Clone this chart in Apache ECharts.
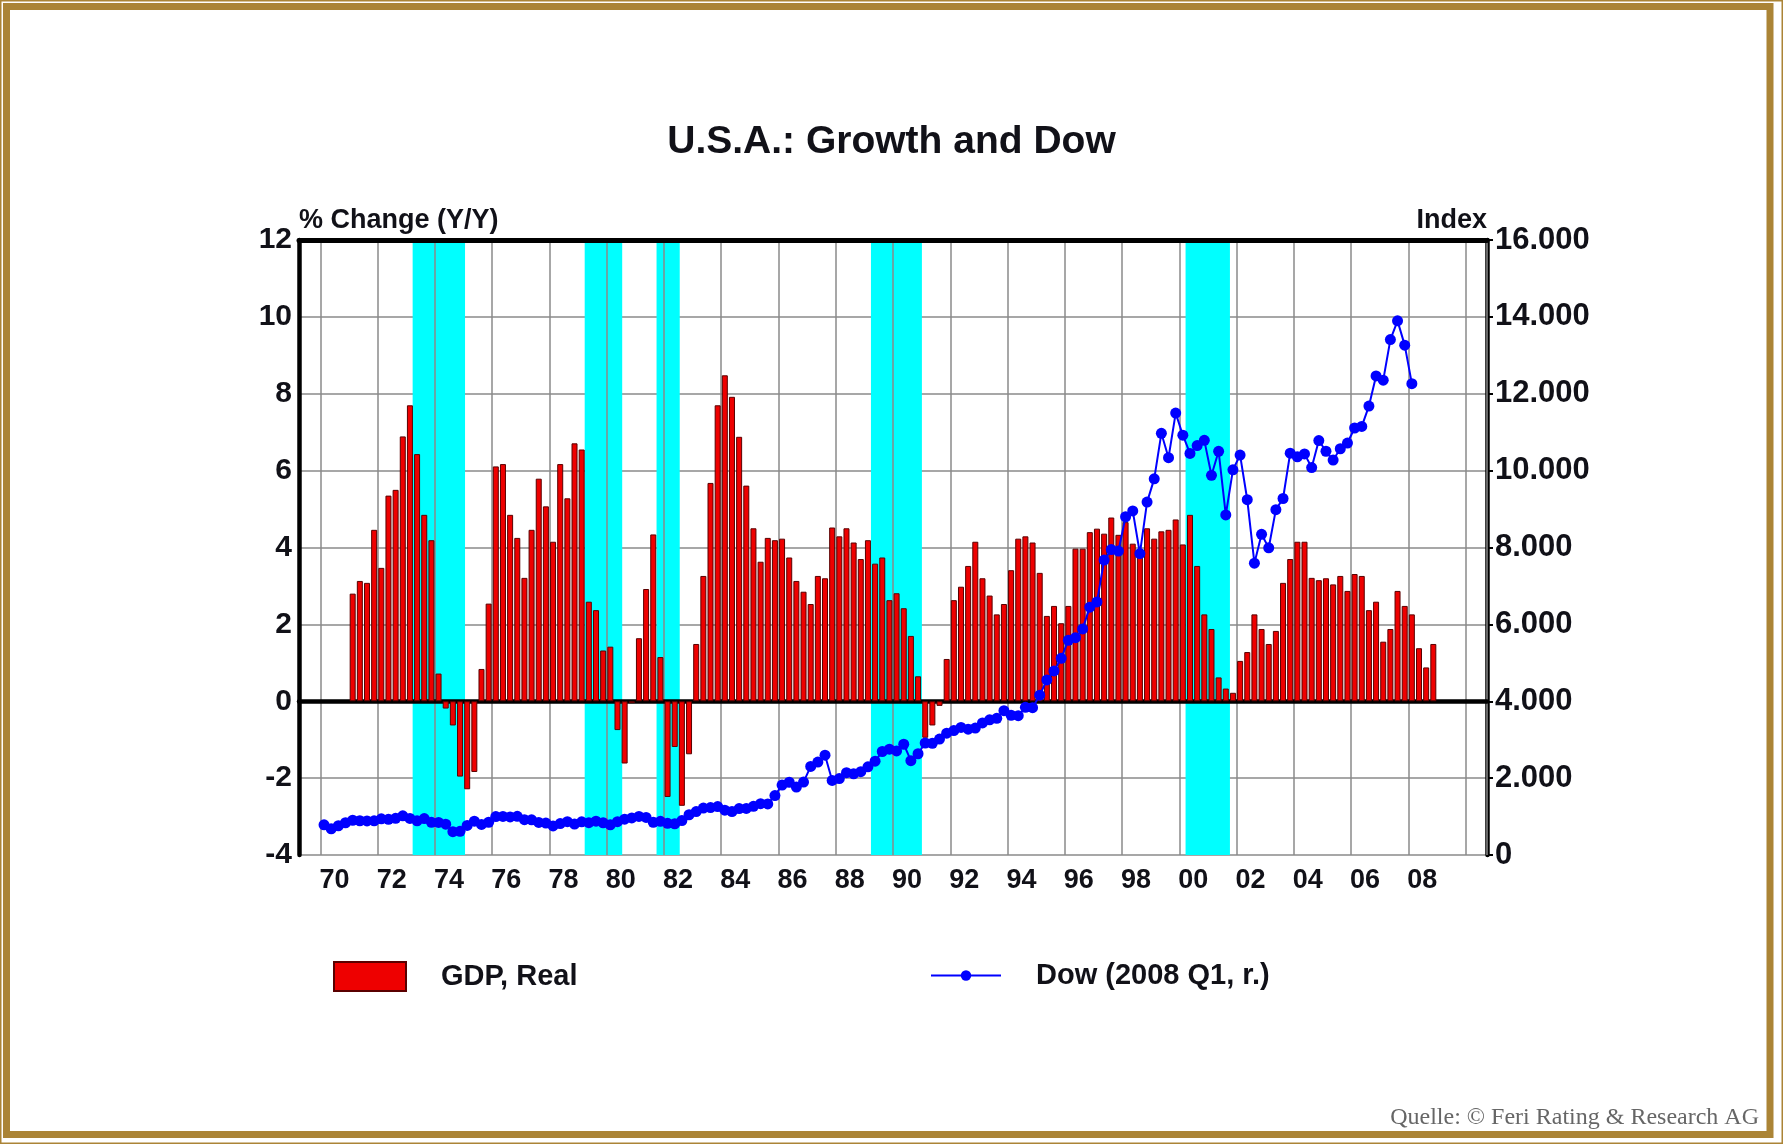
<!DOCTYPE html>
<html>
<head>
<meta charset="utf-8">
<title>U.S.A.: Growth and Dow</title>
<script src="https://cdn.jsdelivr.net/npm/echarts@6/dist/echarts.min.js"></script>
<style>
  html, body { margin: 0; padding: 0; background: #fff; }
  #chart { width: 1783px; height: 1144px; }
</style>
</head>
<body>
<div id="chart"></div>
<script>
// x axis runs quarterly from 1969 Q2 to 2010 Q3
var firstYear = 1969, firstQuarter = 2, quarterCount = 166;
var quarters = [];
for (var i = 0; i < quarterCount; i++) {
    var n = firstQuarter - 1 + i;
    quarters.push((firstYear + Math.floor(n / 4)) + ' Q' + (n % 4 + 1));
}
var lastLabel = '2008 Q1';

// GDP, real, % change y/y, 1971 Q1 .. 2008 Q4
var gdpStart = '1971 Q1';
var gdpReal = [
    2.8, 3.13, 3.08, 4.46,
    3.47, 5.35, 5.5, 6.89,
    7.7, 6.43, 4.85, 4.19,
    0.72, -0.19, -0.63, -1.96,
    -2.29, -1.84, 0.84, 2.54,
    6.11, 6.17, 4.85, 4.25,
    3.21, 4.46, 5.79, 5.07,
    4.15, 6.17, 5.28, 6.71,
    6.55, 2.59, 2.37, 1.32,
    1.42, -0.75, -1.62, -0.05,
    1.64, 2.92, 4.34, 1.15,
    -2.49, -1.19, -2.72, -1.38,
    1.49, 3.26, 5.68, 7.7,
    8.48, 7.92, 6.88, 5.61,
    4.5, 3.63, 4.25, 4.19,
    4.23, 3.74, 3.13, 2.85,
    2.53, 3.26, 3.2, 4.52,
    4.29, 4.5, 4.13, 3.7,
    4.19, 3.58, 3.74, 2.63,
    2.81, 2.42, 1.7, 0.65,
    -0.95, -0.63, -0.12, 1.1,
    2.63, 2.98, 3.52, 4.15,
    3.2, 2.75, 2.26, 2.53,
    3.41, 4.23, 4.29, 4.13,
    3.34, 2.22, 2.48, 2.03,
    2.48, 3.97, 3.97, 4.4,
    4.49, 4.36, 4.78, 4.33,
    4.66, 4.1, 3.8, 4.5,
    4.23, 4.42, 4.46, 4.73,
    4.08, 4.85, 3.52, 2.26,
    1.88, 0.62, 0.33, 0.22,
    1.05, 1.28, 2.26, 1.88,
    1.49, 1.83, 3.08, 3.7,
    4.15, 4.15, 3.21, 3.15,
    3.2, 3.04, 3.26, 2.87,
    3.31, 3.26, 2.37, 2.59,
    1.55, 1.88, 2.87, 2.48,
    2.26, 1.38, 0.88, 1.49
];

// Dow Jones, end of quarter, 1970 Q1 .. 2008 Q1
var dowStart = '1970 Q1';
var dow = [
    785, 683, 761, 839,
    904, 891, 887, 890,
    940, 929, 953, 1020,
    951, 891, 947, 851,
    847, 802, 608, 616,
    768, 879, 794, 852,
    999, 1003, 990, 1005,
    919, 916, 847, 831,
    757, 819, 866, 805,
    862, 842, 879, 839,
    786, 868, 932, 964,
    1004, 977, 850, 875,
    823, 812, 896, 1047,
    1130, 1222, 1233, 1259,
    1165, 1132, 1207, 1212,
    1267, 1336, 1329, 1547,
    1819, 1893, 1768, 1896,
    2305, 2419, 2596, 1939,
    1989, 2142, 2113, 2169,
    2294, 2440, 2693, 2753,
    2707, 2881, 2453, 2634,
    2914, 2907, 3017, 3169,
    3236, 3319, 3272, 3301,
    3436, 3516, 3555, 3754,
    3636, 3625, 3843, 3834,
    4158, 4556, 4789, 5117,
    5587, 5655, 5882, 6448,
    6584, 7673, 7945, 7908,
    8800, 8952, 7843, 9181,
    9786, 10971, 10337, 11497,
    10922, 10448, 10651, 10787,
    9879, 10502, 8848, 10022,
    10404, 9243, 7592, 8342,
    7992, 8985, 9275, 10454,
    10358, 10435, 10080, 10783,
    10504, 10275, 10569, 10718,
    11109, 11150, 11679, 12463,
    12354, 13409, 13896, 13265,
    12263
];

// recession periods (cyan), decimal years
var recessions = [
    [1973.22, 1975.05],
    [1979.23, 1980.54],
    [1981.74, 1982.55],
    [1989.23, 1991.01],
    [2000.22, 2001.77]
];

var leftTicks = { min: -4, max: 12, step: 2 };
var rightTicks = { min: 0, max: 16000, step: 2000 };

function alignTo(start, values) {
    var out = quarters.map(function () { return null; });
    var offset = quarters.indexOf(start);
    values.forEach(function (v, i) { out[offset + i] = v; });
    return out;
}

function everyNth(n, upTo) {
    var first = quarters.indexOf('1970 Q1');
    var last = upTo ? quarters.indexOf(upTo) : quarters.length - 1;
    return function (index) {
        return index >= first && index <= last && (index - first) % n === 0;
    };
}

var font = '"Liberation Sans", Arial, Helvetica, sans-serif';
var ink = '#111118';
var gold = '#ab8436';

var chart = echarts.init(document.getElementById('chart'), null, { renderer: 'canvas' });

chart.setOption({
    animation: false,
    backgroundColor: '#fff',
    title: {
        text: 'U.S.A.: Growth and Dow',
        left: 'center',
        top: 118,
        textStyle: { fontFamily: font, fontSize: 39, fontWeight: 'bold', color: ink }
    },
    grid: { left: 299, right: 296, top: 240, bottom: 289 },
    legend: [{
        data: ['GDP, Real'],
        left: 333,
        top: 961,
        padding: 0,
        icon: 'rect',
        itemWidth: 72,
        itemHeight: 29,
        selectedMode: false,
        textStyle: { fontFamily: font, fontSize: 29, fontWeight: 'bold', color: ink, padding: [0, 0, 0, 30] }
    }, {
        data: ['Dow (2008 Q1, r.)'],
        left: 930,
        top: 961,
        padding: 0,
        itemWidth: 70,
        itemHeight: 13,
        selectedMode: false,
        textStyle: { fontFamily: font, fontSize: 29, fontWeight: 'bold', color: ink, padding: [0, 0, 0, 30] }
    }],
    xAxis: [{
        type: 'category',
        data: quarters,
        boundaryGap: true,
        z: 2,
        axisLine: { lineStyle: { color: '#000', width: 4.5 } },
        axisTick: { interval: everyNth(2), length: 4, lineStyle: { color: '#000', width: 3 } },
        axisLabel: {
            interval: everyNth(8, lastLabel),
            formatter: function (v) { return v.slice(2, 4); },
            fontFamily: font, fontSize: 27, fontWeight: 'bold', color: ink,
            margin: 12,
            padding: [0, 0, 0, 21]
        },
        splitLine: { show: true, interval: everyNth(8), lineStyle: { color: '#8a8a8a', width: 1.5 } }
    }, {
        // same span in decimal years, used for the recession bands and the top frame line
        type: 'value',
        position: 'top',
        min: 1969.25,
        max: 2010.75,
        z: 2,
        axisLine: { show: true, onZero: false, lineStyle: { color: '#000', width: 5 } },
        axisTick: { show: false },
        axisLabel: { show: false },
        splitLine: { show: false }
    }],
    yAxis: [{
        type: 'value',
        min: leftTicks.min,
        max: leftTicks.max,
        interval: leftTicks.step,
        name: '% Change (Y/Y)',
        nameLocation: 'end',
        nameGap: 19,
        nameTextStyle: { fontFamily: font, fontSize: 27, fontWeight: 'bold', color: ink, align: 'left', verticalAlign: 'middle' },
        axisLine: { show: true, onZero: false, lineStyle: { color: '#000', width: 4.5 } },
        axisTick: { show: false },
        axisLabel: { fontFamily: font, fontSize: 30, fontWeight: 'bold', color: ink, margin: 7 },
        splitLine: { show: true, lineStyle: { color: '#8a8a8a', width: 1.5 } }
    }, {
        type: 'value',
        position: 'right',
        min: rightTicks.min,
        max: rightTicks.max,
        interval: rightTicks.step,
        name: 'Index',
        nameLocation: 'end',
        nameGap: 19,
        nameTextStyle: { fontFamily: font, fontSize: 27, fontWeight: 'bold', color: ink, align: 'right', verticalAlign: 'middle' },
        axisLine: { show: true, onZero: false, lineStyle: { color: '#000', width: 4.5 } },
        axisTick: { show: true, length: 6, lineStyle: { color: '#000', width: 2 } },
        axisLabel: {
            fontFamily: font, fontSize: 31, fontWeight: 'bold', color: ink, margin: 8,
            formatter: function (v) { return v === 0 ? '0' : (v / 1000) + '.000'; }
        },
        splitLine: { show: false }
    }],
    series: [{
        type: 'line',
        xAxisIndex: 1,
        yAxisIndex: 0,
        data: [],
        silent: true,
        markArea: {
            silent: true,
            z: 1,
            itemStyle: { color: '#00ffff' },
            data: recessions.map(function (r) {
                return [{ xAxis: r[0] }, { xAxis: r[1] }];
            })
        }
    }, {
        name: 'GDP, Real',
        type: 'bar',
        z: 3,
        barWidth: 6,
        data: alignTo(gdpStart, gdpReal),
        itemStyle: { color: '#ee0000', borderColor: '#5a0000', borderWidth: 1 }
    }, {
        name: 'Dow (2008 Q1, r.)',
        type: 'line',
        yAxisIndex: 1,
        z: 4,
        data: alignTo(dowStart, dow),
        symbol: 'circle',
        symbolSize: 11,
        showAllSymbol: true,
        lineStyle: { color: '#0000ff', width: 2 },
        itemStyle: { color: '#0000ff' }
    }],
    graphic: [{
        type: 'rect',
        shape: { x: 0.75, y: 0.75, width: 1781.5, height: 1142.5 },
        style: { fill: null, stroke: gold, lineWidth: 1.5 }
    }, {
        type: 'rect',
        shape: { x: 6.5, y: 6.5, width: 1763.5, height: 1128 },
        style: { fill: null, stroke: gold, lineWidth: 7 }
    }, {
        type: 'text',
        right: 24,
        bottom: 14,
        style: {
            text: 'Quelle: \u00a9 Feri Rating & Research AG',
            font: '24px "Liberation Serif", "Times New Roman", serif',
            fill: '#666'
        }
    }]
});
</script>
</body>
</html>
